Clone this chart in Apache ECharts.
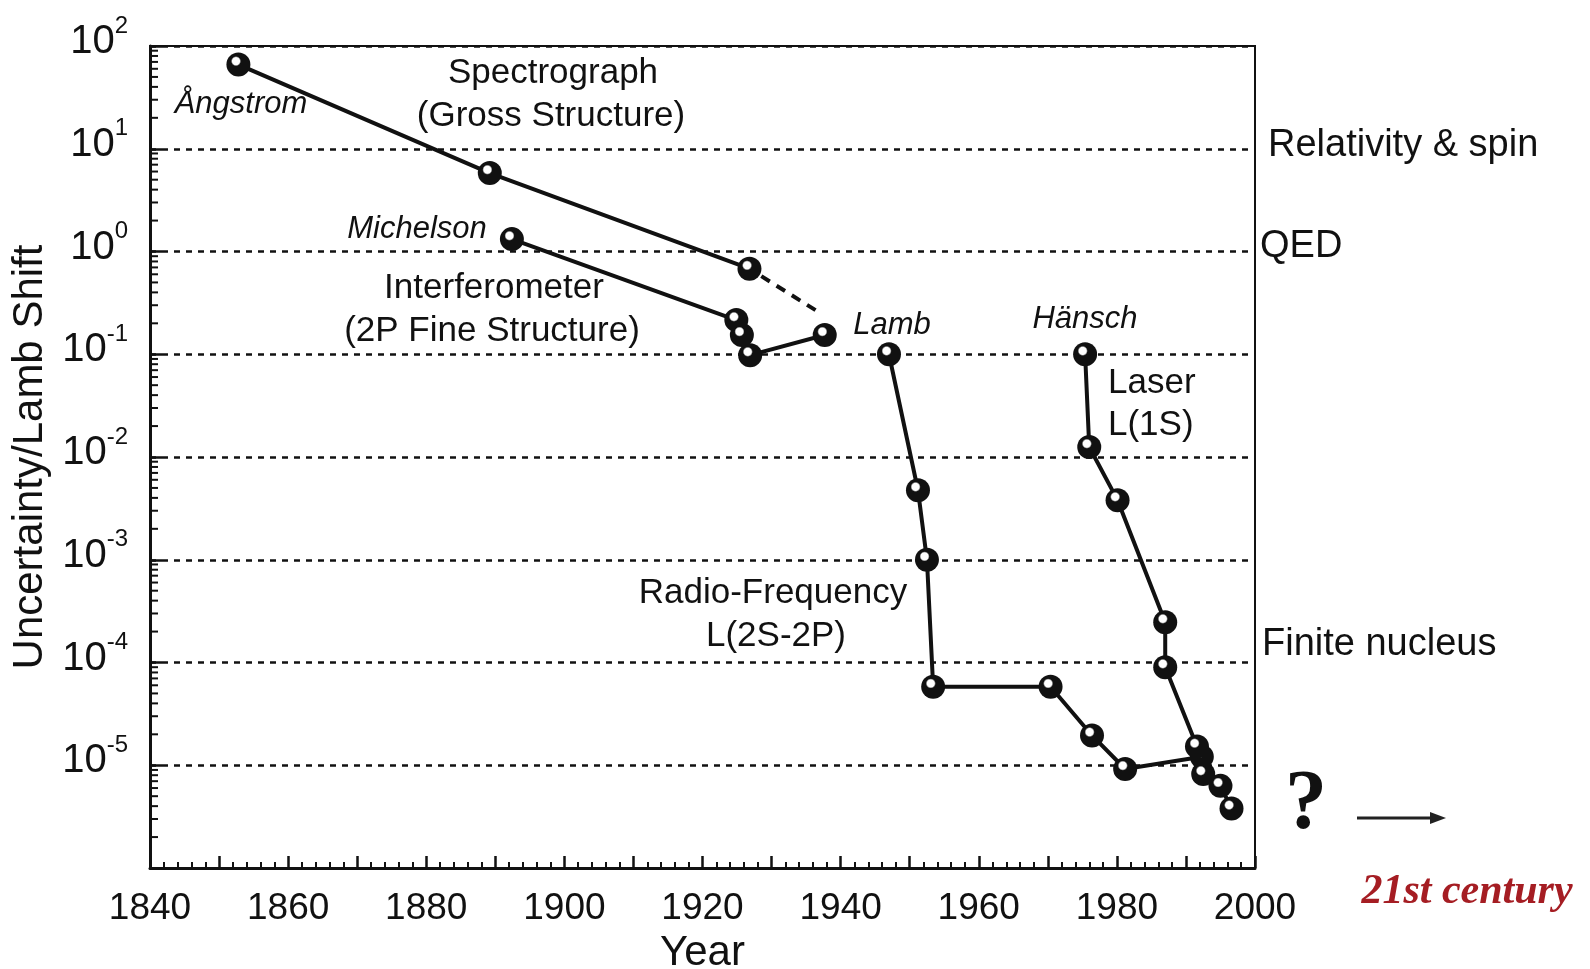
<!DOCTYPE html>
<html>
<head>
<meta charset="utf-8">
<script src="https://cdn.jsdelivr.net/npm/echarts@6/dist/echarts.min.js"></script>
<style>
  html, body { margin: 0; padding: 0; background: #fff; }
  #chart { width: 1590px; height: 969px; }
</style>
</head>
<body>
<div id="chart"></div>
<script>
// values (year, relative uncertainty)
const spectrographYears = [1852.8, 1889.2, 1926.8]
const spectrographValues = [66, 5.8, 0.68]
const spectrographTrendYears = [1926.8, 1936.5]
const spectrographTrendValues = [0.68, 0.265]
const interferometerYears = [1892.4, 1924.9, 1925.7, 1926.9, 1937.7]
const interferometerValues = [1.32, 0.215, 0.154, 0.098, 0.154]
const radioYears = [1947.0, 1951.2, 1952.5, 1953.4, 1970.4, 1976.4, 1981.2, 1992.3]
const radioValues = [0.1, 0.00475, 0.001, 5.8e-5, 5.8e-5, 1.95e-5, 9.2e-6, 1.21e-5]
const laserYears = [1975.4, 1976.0, 1980.1, 1987.0, 1987.0, 1991.6, 1992.5, 1995.0, 1996.6]
const laserValues = [0.1, 0.0125, 0.0038, 2.47e-4, 9e-5, 1.52e-5, 8.2e-6, 6.3e-6, 3.8e-6]

const yearLabels = [1840, 1860, 1880, 1900, 1920, 1940, 1960, 1980, 2000]
const exponents = [-5, -4, -3, -2, -1, 0, 1, 2]
const minorMultipliers = [2, 3, 4, 5, 6, 7, 8, 9]
const minorDecades = [-6, -5, -4, -3, -2, -1, 0, 1]

const ink = '#111'
const sans = '"Liberation Sans", Arial, sans-serif'
const serif = '"Liberation Serif", "Times New Roman", serif'

const pairs = (xs, ys) => xs.map((x, i) => [x, ys[i]])

const marker = {
  color: {
    type: 'radial', x: 0.4, y: 0.36, r: 0.5,
    colorStops: [
      { offset: 0, color: '#fff' },
      { offset: 0.3, color: '#fff' },
      { offset: 0.42, color: ink },
      { offset: 1, color: ink }
    ]
  },
  borderWidth: 0
}

const dataSeries = (data) => ({
  type: 'line',
  data: data,
  symbol: 'circle',
  symbolSize: 24,
  itemStyle: marker,
  lineStyle: { color: ink, width: 4 },
  z: 5
})

// log minor ticks on the left axis
const minorTickData = []
minorDecades.forEach((d) => {
  minorMultipliers.forEach((m) => {
    minorTickData.push([1840, m * Math.pow(10, d)])
  })
})

const text = (x, y, str, font, align, extra) => ({
  type: 'text',
  x: x,
  y: y,
  silent: true,
  style: Object.assign({
    text: str,
    font: font,
    fill: ink,
    textAlign: align || 'center',
    textVerticalAlign: 'middle'
  }, extra || {})
})

const chart = echarts.init(document.getElementById('chart'))

const option = {
  backgroundColor: '#fff',
  animation: false,
  grid: {
    left: 150,
    top: 46,
    right: 335,
    bottom: 101,
    containLabel: false,
    outerBoundsMode: 'none',
    show: true,
    borderColor: ink,
    borderWidth: 2
  },
  xAxis: {
    type: 'value',
    min: 1840,
    max: 2000,
    interval: 10,
    name: 'Year',
    nameLocation: 'middle',
    nameGap: 64,
    nameTextStyle: { fontFamily: sans, fontSize: 42, color: ink },
    axisLine: { lineStyle: { color: ink, width: 3 } },
    axisTick: { inside: true, length: 12, lineStyle: { color: ink, width: 2.5 } },
    minorTick: { show: true, splitNumber: 5, length: 6, lineStyle: { color: ink, width: 2 } },
    splitLine: { show: false },
    axisLabel: {
      fontFamily: sans,
      fontSize: 37,
      color: ink,
      margin: 22,
      formatter: (v) => (yearLabels.indexOf(v) >= 0 ? String(v) : '')
    }
  },
  yAxis: {
    type: 'log',
    logBase: 10,
    min: 1e-6,
    max: 100,
    splitNumber: 8,
    name: 'Uncertainty/Lamb Shift',
    nameLocation: 'middle',
    nameGap: 96,
    nameRotate: 90,
    nameTextStyle: { fontFamily: sans, fontSize: 42, color: ink },
    axisLine: { show: true, lineStyle: { color: ink, width: 3 } },
    axisTick: { inside: true, length: 12, lineStyle: { color: ink, width: 2.5 } },
    splitLine: { show: true, lineStyle: { color: ink, width: 2.5, type: [6, 6] } },
    axisLabel: {
      margin: 22,
      padding: [0, 0, 16, 0],
      formatter: (v) => {
        const e = Math.round(Math.log10(v))
        if (exponents.indexOf(e) < 0) return ''
        return '{b|10}{s|' + e + '}'
      },
      rich: {
        b: { fontFamily: sans, fontSize: 40, color: ink, lineHeight: 48, verticalAlign: 'bottom' },
        s: { fontFamily: sans, fontSize: 24, color: ink, lineHeight: 48, verticalAlign: 'top' }
      }
    }
  },
  series: [
    {
      type: 'custom',
      silent: true,
      clip: false,
      data: minorTickData,
      renderItem: (params, api) => {
        const p = api.coord([api.value(0), api.value(1)])
        return {
          type: 'line',
          shape: { x1: p[0], y1: p[1], x2: p[0] + 8, y2: p[1] },
          style: { stroke: ink, lineWidth: 2 }
        }
      },
      z: 3
    },
    {
      type: 'line',
      data: pairs(spectrographTrendYears, spectrographTrendValues),
      symbol: 'none',
      lineStyle: { color: ink, width: 4, type: [10, 8], dashOffset: -14 },
      z: 4
    },
    dataSeries(pairs(spectrographYears, spectrographValues)),
    dataSeries(pairs(interferometerYears, interferometerValues)),
    dataSeries(pairs(radioYears, radioValues)),
    dataSeries(pairs(laserYears, laserValues))
  ],
  graphic: [
    text(241, 104, 'Ångstrom', 'italic 31px ' + sans),
    text(553, 73, 'Spectrograph', '35px ' + sans),
    text(551, 116, '(Gross Structure)', '35px ' + sans),
    text(417, 229, 'Michelson', 'italic 31px ' + sans),
    text(494, 288, 'Interferometer', '35px ' + sans),
    text(492, 331, '(2P Fine Structure)', '35px ' + sans),
    text(892, 325, 'Lamb', 'italic 31px ' + sans),
    text(1085, 319, 'Hänsch', 'italic 31px ' + sans),
    text(1108, 383, 'Laser', '35px ' + sans, 'left'),
    text(1108, 425, 'L(1S)', '35px ' + sans, 'left'),
    text(773, 593, 'Radio-Frequency', '35px ' + sans),
    text(776, 636, 'L(2S-2P)', '35px ' + sans),
    text(1268, 146, 'Relativity & spin', '38px ' + sans, 'left'),
    text(1260, 247, 'QED', '38px ' + sans, 'left'),
    text(1262, 645, 'Finite nucleus', '38px ' + sans, 'left'),
    text(1306, 806, '?', 'bold 84px ' + serif),
    {
      type: 'line',
      silent: true,
      shape: { x1: 1357, y1: 818, x2: 1432, y2: 818 },
      style: { stroke: '#222', lineWidth: 3 }
    },
    {
      type: 'polygon',
      silent: true,
      shape: { points: [[1430, 812], [1446, 818], [1430, 824]] },
      style: { fill: '#222' }
    },
    text(1467, 892, '21st century', 'italic bold 42px ' + serif, 'center', { fill: '#a51d23' })
  ]
}

chart.setOption(option)
</script>
</body>
</html>
